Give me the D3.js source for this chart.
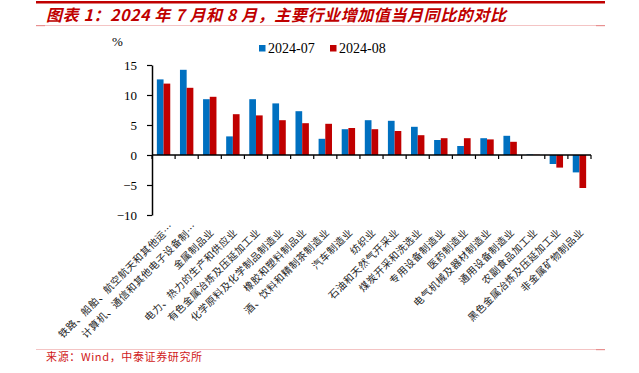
<!DOCTYPE html>
<html>
<head>
<meta charset="utf-8">
<script src="https://cdn.jsdelivr.net/npm/d3@7"></script>
<style>
  body { margin: 0; background: #fff; }
  svg { display: block; }
</style>
</head>
<body>
<script>
var categories = [
  "铁路、船舶、航空航天和其他运…",
  "计算机、通信和其他电子设备制…",
  "金属制品业",
  "电力、热力的生产和供应业",
  "有色金属冶炼及压延加工业",
  "化学原料及化学制品制造业",
  "橡胶和塑料制品业",
  "酒、饮料和精制茶制造业",
  "汽车制造业",
  "纺织业",
  "石油和天然气开采业",
  "煤炭开采和洗选业",
  "专用设备制造业",
  "医药制造业",
  "电气机械及器材制造业",
  "通用设备制造业",
  "农副食品加工业",
  "黑色金属冶炼及压延加工业",
  "非金属矿物制品业"
];
var jul = [12.6, 14.2, 9.3, 3.1, 9.3, 8.6, 7.3, 2.7, 4.3, 5.8, 5.7, 4.7, 2.5, 1.5, 2.8, 3.2, 0.1, -1.5, -2.9];
var aug = [11.9, 11.2, 9.7, 6.8, 6.6, 5.8, 5.3, 5.2, 4.5, 4.3, 4.0, 3.3, 2.8, 2.8, 2.6, 2.2, 0.05, -2.1, -5.5];
var seriesNames = ["2024-07", "2024-08"];
var colors = ["#0070c0", "#c00000"];
var yTicks = [15, 10, 5, 0, -5, -10];

var svg = d3.select("body").append("svg")
    .attr("width", 639)
    .attr("height", 373);

// header / footer rules
svg.append("rect").attr("x", 36).attr("y", 1).attr("width", 569).attr("height", 2.5).attr("fill", "#c00000");
svg.append("text")
    .attr("x", 46).attr("y", 21)
    .attr("fill", "#c00000")
    .attr("font-family", "'Noto Sans CJK SC', sans-serif")
    .attr("font-size", 16)
    .attr("font-weight", "bold")
    .attr("font-style", "italic")
    .attr("textLength", 460)
    .attr("lengthAdjust", "spacing")
    .text("图表 1：2024 年 7 月和 8 月，主要行业增加值当月同比的对比");
svg.append("rect").attr("x", 36).attr("y", 25).attr("width", 569).attr("height", 1).attr("fill", "#f4c4c4");
svg.append("rect").attr("x", 596).attr("y", 25).attr("width", 9).attr("height", 1.2).attr("fill", "#e89090");
svg.append("rect").attr("x", 36).attr("y", 25).attr("width", 9).attr("height", 1.2).attr("fill", "#e89090");

svg.append("rect").attr("x", 36).attr("y", 349).attr("width", 569).attr("height", 1).attr("fill", "#f4c4c4");
svg.append("rect").attr("x", 596).attr("y", 349).attr("width", 9).attr("height", 1.2).attr("fill", "#e89090");
svg.append("text")
    .attr("x", 46).attr("y", 361)
    .attr("fill", "#d02020")
    .attr("font-family", "'Noto Sans CJK SC', monospace")
    .attr("font-size", 11)
    .attr("textLength", 156)
    .attr("lengthAdjust", "spacing")
    .text("来源：Wind，中泰证券研究所");

// scales
var x = d3.scaleBand().domain(categories).range([152, 591]).padding(0);
var y = d3.scaleLinear().domain([-10, 15]).range([215, 65]);
var barW = 6.7;

var groups = svg.selectAll("g.grp")
    .data(categories)
    .enter().append("g")
    .attr("class", "grp")
    .attr("transform", function(d){ return "translate(" + (x(d) + x.bandwidth() / 2) + ",0)"; });

groups.each(function(d, i){
    var vals = [jul[i], aug[i]];
    d3.select(this).selectAll("rect")
        .data(vals)
        .enter().append("rect")
        .attr("x", function(v, k){ return k === 0 ? -barW : 0; })
        .attr("y", function(v){ return y(Math.max(0, v)); })
        .attr("width", barW)
        .attr("height", function(v){ return Math.abs(y(v) - y(0)); })
        .attr("fill", function(v, k){ return colors[k]; });
});

// y axis
var yAxis = svg.append("g")
    .attr("transform", "translate(152,0)")
    .call(d3.axisLeft(y).tickValues(yTicks).tickSize(5).tickSizeOuter(0).tickFormat(d3.format("d")));
yAxis.select(".domain").attr("stroke", "#000").attr("stroke-width", 1.5);
yAxis.selectAll(".tick line").attr("stroke", "#000").attr("stroke-width", 1.2);
yAxis.selectAll(".tick text")
    .attr("x", -15)
    .attr("fill", "#000")
    .attr("font-family", "'Liberation Serif', serif")
    .attr("font-size", 13);

svg.append("text")
    .attr("x", 112).attr("y", 46)
    .attr("font-family", "'Liberation Serif', serif")
    .attr("font-size", 13)
    .text("%");

// x axis at zero
var zeroY = y(0);
svg.append("line")
    .attr("x1", 152).attr("x2", 591)
    .attr("y1", zeroY).attr("y2", zeroY)
    .attr("stroke", "#000").attr("stroke-width", 1.5);
var bounds = categories.map(function(c){ return x(c); }).concat([x.range()[1]]);
svg.selectAll("line.xt")
    .data(bounds)
    .enter().append("line")
    .attr("class", "xt")
    .attr("x1", function(d){ return d; }).attr("x2", function(d){ return d; })
    .attr("y1", zeroY).attr("y2", zeroY + 4)
    .attr("stroke", "#000").attr("stroke-width", 1.2);

// category labels (truncated ones sit a little further up-right)
svg.selectAll("text.cat")
    .data(categories)
    .enter().append("text")
    .attr("class", "cat")
    .attr("transform", function(d){ return "translate(" + (x(d) + x.bandwidth() / 2 + 5) + ",233) rotate(-45)"; })
    .attr("dx", function(d){ return d.slice(-1) === "…" ? 8 : 0; })
    .attr("text-anchor", "end")
    .attr("font-family", "'Noto Sans CJK SC', serif")
    .attr("font-size", 10)
    .attr("letter-spacing", 0.5)
    .attr("fill", "#222")
    .text(function(d){ return d; });

// legend
var legend = svg.selectAll("g.leg")
    .data(seriesNames)
    .enter().append("g")
    .attr("class", "leg")
    .attr("transform", function(d, i){ return "translate(" + (259 + i * 71) + ",45)"; });
legend.append("rect")
    .attr("width", 6.5).attr("height", 6.5)
    .attr("fill", function(d, i){ return colors[i]; });
legend.append("text")
    .attr("x", 9).attr("y", 8)
    .attr("font-family", "'Liberation Serif', serif")
    .attr("font-size", 14)
    .text(function(d){ return d; });
</script>
</body>
</html>
